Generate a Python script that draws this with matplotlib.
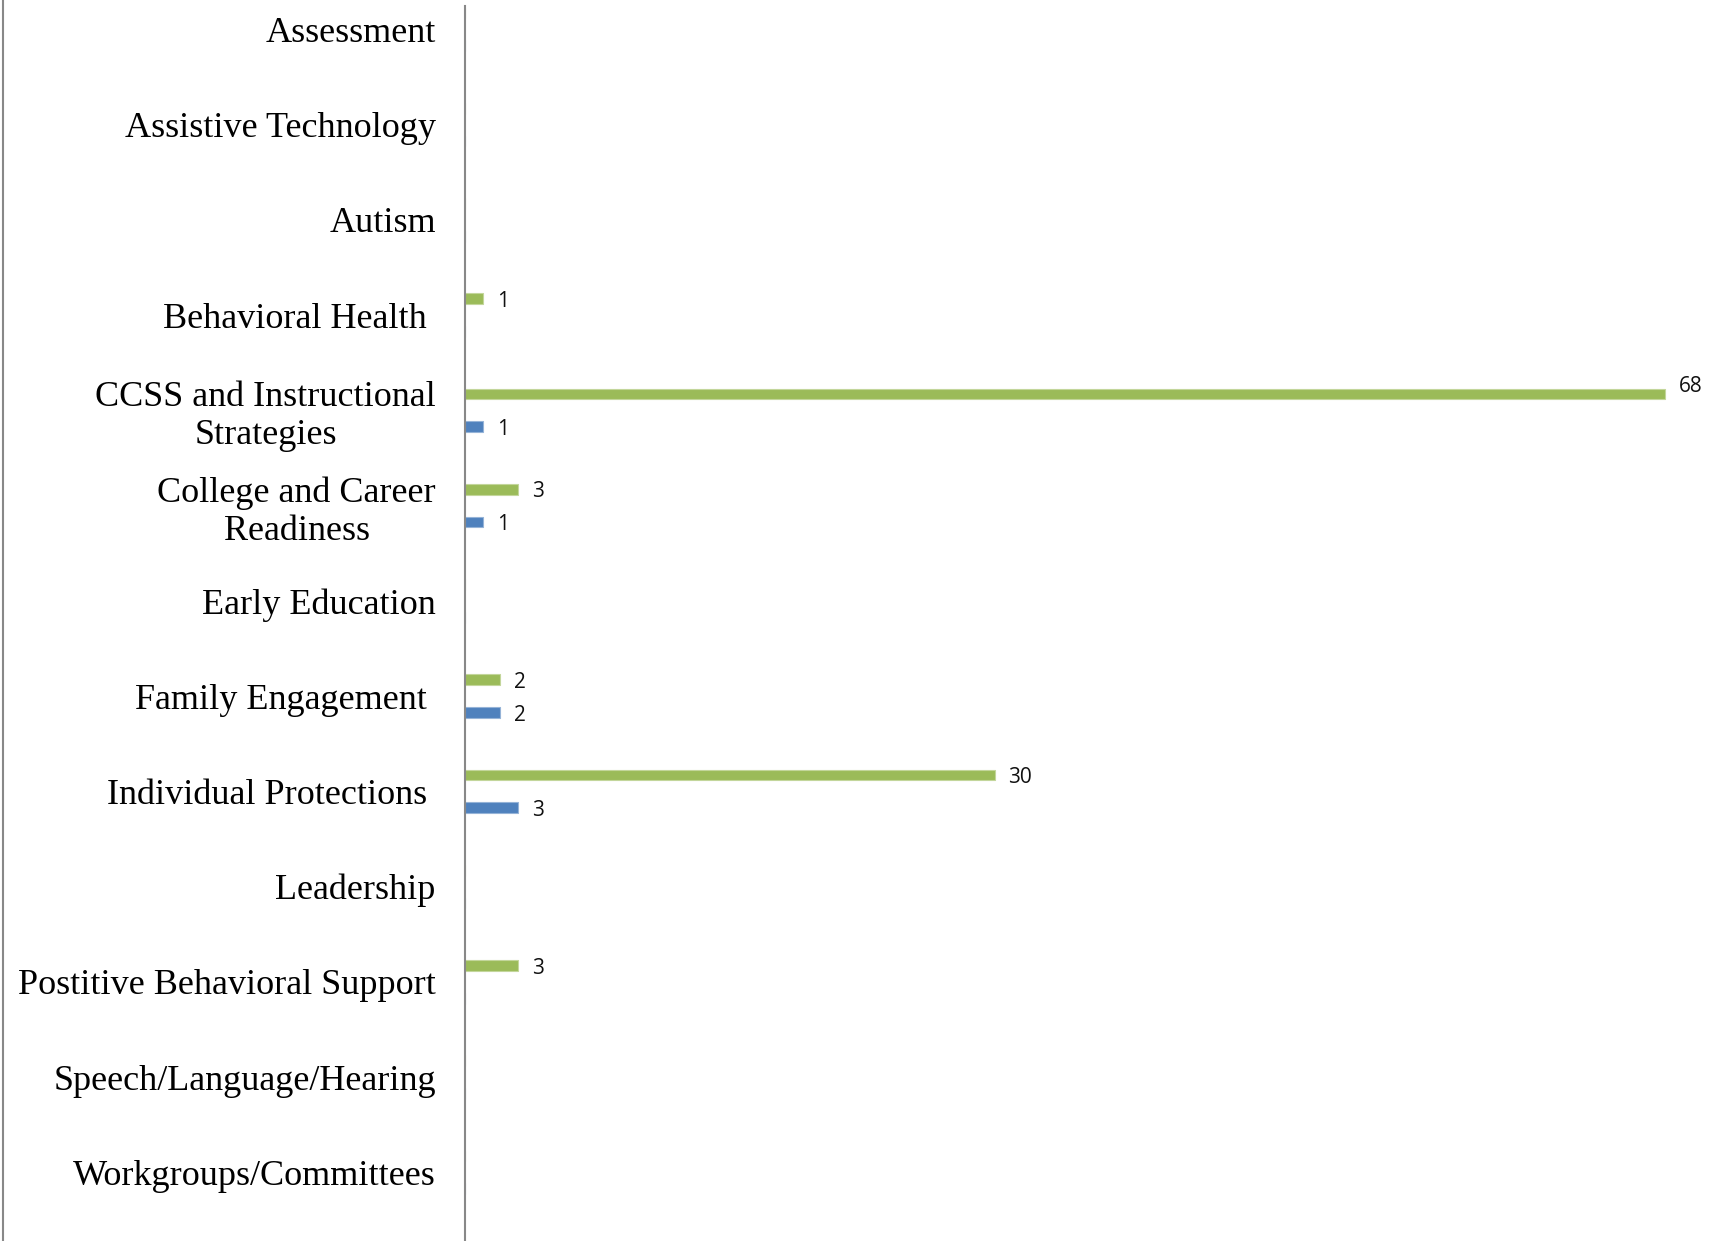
import matplotlib
matplotlib.use("Agg")
import matplotlib.pyplot as plt
from matplotlib.lines import Line2D
import numpy as np

categories = [
    "Assessment",
    "Assistive Technology",
    "Autism",
    "Behavioral Health ",
    "CCSS and Instructional\nStrategies",
    "College and Career\nReadiness",
    "Early Education",
    "Family Engagement ",
    "Individual Protections ",
    "Leadership",
    "Postitive Behavioral Support",
    "Speech/Language/Hearing",
    "Workgroups/Committees",
]
green_vals = [0, 0, 0, 1, 68, 3, 0, 2, 30, 0, 3, 0, 0]
blue_vals = [0, 0, 0, 0, 1, 1, 0, 2, 3, 0, 0, 0, 0]

GREEN = "#9BBB59"
BLUE = "#4F81BD"

W, H = 1710, 1241
fig = plt.figure(figsize=(W / 100, H / 100), dpi=100)

# plot area: left axis line at x=465px, top at y=6px
ax = fig.add_axes([465 / W, 0, 1 - 465 / W, 1 - 6 / H])

y = np.arange(len(categories))
off = 0.172
h = 0.112
ax.barh(y - off, green_vals, height=h, color=GREEN, edgecolor="#c3d69b", linewidth=0.8)
ax.barh(y + off, blue_vals, height=h, color=BLUE, edgecolor="#95b3d7", linewidth=0.8)

for i, v in enumerate(green_vals):
    if v:
        ax.annotate(str(v), (v, i - off - (0.1 if v > 60 else 0.0)), xytext=(14, 0),
                    textcoords="offset pixels", va="center_baseline", ha="left",
                    fontsize=15, family="Open Sans", color="#111111")
for i, v in enumerate(blue_vals):
    if v:
        ax.annotate(str(v), (v, i + off), xytext=(14, 0),
                    textcoords="offset pixels", va="center_baseline", ha="left",
                    fontsize=15, family="Open Sans", color="#111111")

px_per_unit = 17.65
ax.set_xlim(0, (W - 465) / px_per_unit)
spacing = 95.25
first = 29.4
ax.set_ylim((H - first) / spacing, (6 - first) / spacing)

ax.set_yticks(y)
ax.set_yticklabels(categories, family="Liberation Serif", fontsize=26, multialignment="center")
ax.tick_params(axis="y", length=0, pad=21)
ax.set_xticks([])
for s in ["top", "right", "bottom"]:
    ax.spines[s].set_visible(False)
ax.spines["left"].set_color("#888888")
ax.spines["left"].set_linewidth(1.5)

fig.add_artist(Line2D([3 / W, 3 / W], [0, 1], color="#888888", linewidth=1.5))

fig.savefig("out.png", dpi=100)
